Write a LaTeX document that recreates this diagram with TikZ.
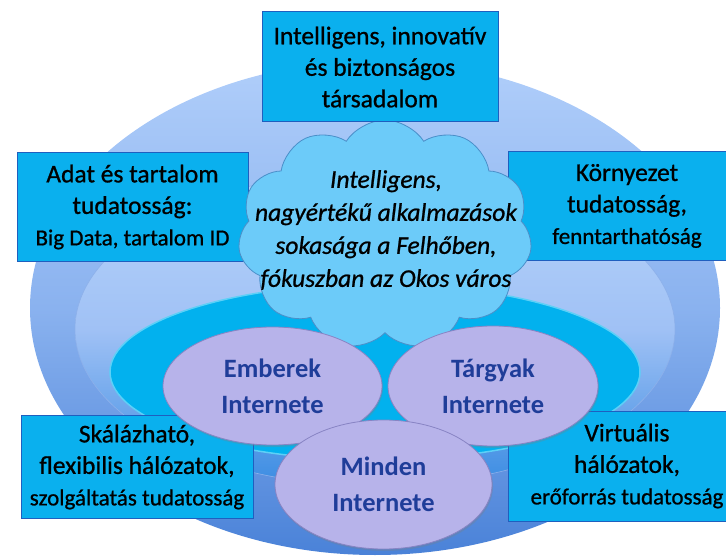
\documentclass[tikz,border=0pt]{standalone}
\usepackage{fontspec}
\setmainfont{Carlito}
\newfontfamily\heavyfont[FakeBold=0.8]{Carlito}
\usetikzlibrary{shapes.geometric,shapes.symbols,shadows}
\definecolor{boxfill}{HTML}{0AB0EE}
\definecolor{boxline}{HTML}{1F5FBF}
\definecolor{cloudfill}{HTML}{6CCBF9}
\definecolor{cloudline}{HTML}{4A8FC9}
\definecolor{ellfill}{HTML}{B7B3EA}
\definecolor{ellline}{HTML}{8884C4}
\definecolor{elltext}{HTML}{1F3D99}
\definecolor{layAtop}{HTML}{B0CEFA}
\definecolor{layAmid}{HTML}{8AB2EF}
\definecolor{layAbot}{HTML}{4A82D8}
\definecolor{layBtop}{HTML}{B8D5FB}
\definecolor{layBmid}{HTML}{A0C1F5}
\definecolor{layBbot}{HTML}{3A8CE2}
\definecolor{layBline}{HTML}{8DB0EA}
\definecolor{layCfill}{HTML}{02B1EE}
\definecolor{layCline}{HTML}{5DD0F7}
\begin{document}
\begin{tikzpicture}[x=1pt,y=-1pt,
  infobox/.style={rectangle, fill=boxfill, draw=boxline, line width=1pt, align=center,
    inner sep=0pt, text=black, font=\heavyfont\fontsize{25.5}{31.5}\selectfont},
  netell/.style={ellipse, fill=ellfill, draw=ellline, line width=0.8pt, align=center,
    inner sep=0pt, text=elltext, font=\bfseries\fontsize{26.5}{36}\selectfont,
    drop shadow={shadow xshift=1pt, shadow yshift=-2pt, opacity=0.3}}
  ]
\useasboundingbox (0,0) rectangle (726,556);
\clip (0,0) rectangle (726,556);
% background layers
\shade[top color=layAtop, bottom color=layAbot, middle color=layAmid]
  (375,308) ellipse [x radius=345pt, y radius=247pt];
\draw[layBline, line width=0.6pt, top color=layBtop, bottom color=layBbot, middle color=layBmid]
  (375,329) ellipse [x radius=300pt, y radius=157pt];
\draw[fill=layCfill, draw=layCline, line width=1.5pt]
  (375,372) ellipse [x radius=265pt, y radius=88pt];
% side boxes
\node[infobox, minimum width=231pt, minimum height=109pt] (leftbox) at (132.5,207)
  {Adat és tartalom\\ tudatosság:\\ {\fontsize{23}{31.5}\selectfont Big Data, tartalom ID}};
\node[infobox, minimum width=238pt, minimum height=109pt] (rightbox) at (627,206)
  {Környezet\\ tudatosság,\\ {\fontsize{23}{31.5}\selectfont fenntarthatóság}};
\node[infobox, minimum width=232pt, minimum height=103pt] (blbox) at (137,467)
  {Skálázható,\\ flexibilis hálózatok,\\ {\fontsize{23}{31.5}\selectfont szolgáltatás tudatosság}};
\node[infobox, minimum width=238pt, minimum height=110pt] (brbox) at (627,466)
  {Virtuális\\ hálózatok,\\ {\fontsize{23}{31.5}\selectfont erőforrás tudatosság}};
% cloud
\node[cloud, cloud puffs=11, cloud puff arc=115, aspect=1.28, fill=cloudfill, draw=cloudline,
  line width=0.8pt, minimum width=294pt, minimum height=230pt, inner sep=0pt] (cloud) at (385,235) {};
\node[align=center, inner sep=0pt, font=\heavyfont\itshape\fontsize{25.5}{33}\selectfont] (cloudtxt) at (386,230)
  {Intelligens,\\ nagyértékű alkalmazások\\ sokasága a Felhőben,\\ fókuszban az Okos város};
% top box
\node[infobox, minimum width=236pt, minimum height=110pt] (topbox) at (380,67)
  {Intelligens, innovatív\\ és biztonságos\\ társadalom};
% internet ellipses
\node[netell, minimum width=219pt, minimum height=118pt] (emberek) at (272.5,386) {Emberek\\ Internete};
\node[netell, minimum width=210pt, minimum height=120pt] (targyak) at (493,386) {Tárgyak\\ Internete};
\node[netell, minimum width=217pt, minimum height=129pt] (minden) at (383.5,484.5) {Minden\\ Internete};
\end{tikzpicture}
\end{document}
